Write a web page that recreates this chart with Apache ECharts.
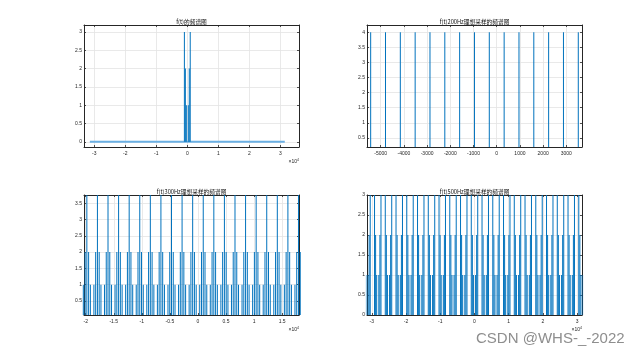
<!DOCTYPE html>
<html><head><meta charset="utf-8">
<script src="https://cdn.jsdelivr.net/npm/echarts@6/dist/echarts.min.js"></script>
<style>html,body{margin:0;padding:0;background:#fff}#c{width:643px;height:356px}</style>
</head><body><div id="c"></div>
<script>
// ---------- titles ----------
const titles = ['f(t)的频谱图', 'f(t)200Hz理想采样的频谱图', 'f(t)300Hz理想采样的频谱图', 'f(t)500Hz理想采样的频谱图'];

// ---------- plot 1 : spectrum of f(t) ----------
const p1X = [-942, -628, -314, 314, 628, 942];
const p1Y = [3, 2, 1, 1, 2, 3];
const p1ZeroX = [-31416, 31416];
const p1ZeroY = [0, 0];
const p1XTicks = [-30000, -20000, -10000, 0, 10000, 20000, 30000];
const p1YTicks = [0, 0.5, 1, 1.5, 2, 2.5, 3];

// ---------- plot 2 : 200 Hz sampling ----------
const p2X = [-5432, -4793, -4154, -3515, -2876, -2237, -1598, -959, -320, 320, 959, 1598, 2237, 2876, 3515];
const p2Y = [4, 4, 4, 4, 4, 4, 4, 4, 4, 4, 4, 4, 4, 4, 4];
const p2XTicks = [-5000, -4000, -3000, -2000, -1000, 0, 1000, 2000, 3000];
const p2YTicks = [0.5, 1, 1.5, 2, 2.5, 3, 3.5, 4];

// ---------- plot 3 : 300 Hz sampling ----------
const p3Levels = [6, 2, 1];
const p3H6X = [-19793, -17908, -16023, -14138, -12253, -10368, -8483, -6598, -4713, -2828, -943, 942, 2827, 4712, 6597, 8482, 10367, 12252, 14137, 16022, 17907];
const p3H2X = [-20107, -19479, -18222, -17594, -16337, -15709, -14452, -13824, -12567, -11939, -10682, -10054, -8797, -8169, -6912, -6284, -5027, -4399, -3142, -2514, -1257, -629, 628, 1256, 2513, 3141, 4398, 5026, 6283, 6911, 8168, 8796, 10053, 10681, 11938, 12566, 13823, 14451, 15708, 16336, 17593, 18221];
const p3H1X = [-20421, -19165, -18536, -17280, -16651, -15395, -14766, -13510, -12881, -11625, -10996, -9740, -9111, -7855, -7226, -5970, -5341, -4085, -3456, -2200, -1571, -315, 314, 1570, 2199, 3455, 4084, 5340, 5969, 7225, 7854, 9110, 9739, 10995, 11624, 12880, 13509, 14765, 15394, 16650, 17279, 18535];
const p3XTicks = [-20000, -15000, -10000, -5000, 0, 5000, 10000, 15000];
const p3YTicks = [0.5, 1, 1.5, 2, 2.5, 3, 3.5];

// ---------- plot 4 : 500 Hz sampling ----------
const p4Levels = [3, 2, 1];
const p4H3X = [-32358, -30474, -29216, -27332, -26075, -24191, -22933, -21049, -19792, -17908, -16650, -14766, -13508, -11624, -10367, -8483, -7225, -5341, -4084, -2200, -942, 942, 2200, 4084, 5341, 7225, 8483, 10367, 11624, 13508, 14766, 16650, 17908, 19792, 21049, 22933, 24191, 26075, 27332, 29216, 30474, 32358];
const p4H2X = [-32044, -30788, -28902, -27646, -25761, -24505, -22619, -21363, -19478, -18222, -16336, -15080, -13194, -11938, -10053, -8797, -6911, -5655, -3770, -2514, -628, 628, 2514, 3770, 5655, 6911, 8797, 10053, 11938, 13194, 15080, 16336, 18222, 19478, 21363, 22619, 24505, 25761, 27646, 28902, 30788, 32044];
const p4H1X = [-31730, -31102, -28588, -27960, -25447, -24819, -22305, -21677, -19164, -18536, -16022, -15394, -12880, -12252, -9739, -9111, -6597, -5969, -3456, -2828, -314, 314, 2828, 3456, 5969, 6597, 9111, 9739, 12252, 12880, 15394, 16022, 18536, 19164, 21677, 22305, 24819, 25447, 27960, 28588, 31102, 31730];
const p4XTicks = [-30000, -20000, -10000, 0, 10000, 20000, 30000];
const p4YTicks = [0, 0.5, 1, 1.5, 2, 2.5, 3];

// ---------- build ----------
const STEM = '#0072BD';
const AX = '#262626';
const GRIDC = '#e3e3e3';
const FONT = 'Liberation Sans, Arial, sans-serif';

const grids = [
  {left: 84, top: 25, width: 215, height: 122},
  {left: 367, top: 25, width: 215, height: 122},
  {left: 84, top: 195, width: 215, height: 120},
  {left: 367, top: 195, width: 215, height: 120}
];
const xRanges = [[-33300, 36000], [-5590, 3675], [-20300, 18000], [-31416, 31416]];
const yRanges = [[-0.14, 3.19], [0.2, 4.24], [0.07, 3.75], [0, 3]];
const xTicks = [p1XTicks, p2XTicks, p3XTicks, p4XTicks];
const yTicks = [p1YTicks, p2YTicks, p3YTicks, p4YTicks];
const scaled = [true, false, true, true];

const fmtNum = v => String(+v.toFixed(2));
const xAxes = [], yAxes = [];
for (let i = 0; i < 4; i++) {
  const common = {
    type: 'value', gridIndex: i, min: xRanges[i][0], max: xRanges[i][1],
    axisLine: {show: true, onZero: false, lineStyle: {color: AX, width: 1}},
    axisTick: {show: true, inside: true, length: 2, customValues: xTicks[i], lineStyle: {color: AX, width: 0.8}}
  };
  xAxes.push(Object.assign({}, common, {
    position: 'bottom',
    axisLabel: {customValues: xTicks[i], fontSize: 5, color: AX, margin: 4, fontFamily: FONT,
      formatter: v => scaled[i] ? fmtNum(v / 10000) : fmtNum(v)},
    splitLine: {show: true, lineStyle: {color: GRIDC, width: 0.8}},
    name: scaled[i] ? '×10{s|4}' : '', nameLocation: 'end', nameGap: 0,
    nameTextStyle: {fontSize: 5, color: AX, align: 'right', verticalAlign: 'top', padding: [11, 0, 0, 0], fontFamily: FONT,
      rich: {s: {fontSize: 3.5, verticalAlign: 'top', color: AX, padding: [0, 0, 3, 0]}}}
  }));
  xAxes.push(Object.assign({}, common, {
    position: 'top', axisLabel: {show: false}, splitLine: {show: false}
  }));
  const ycommon = {
    type: 'value', gridIndex: i, min: yRanges[i][0], max: yRanges[i][1],
    axisLine: {show: true, onZero: false, lineStyle: {color: AX, width: 1}},
    axisTick: {show: true, inside: true, length: 2, customValues: yTicks[i], lineStyle: {color: AX, width: 0.8}}
  };
  yAxes.push(Object.assign({}, ycommon, {
    position: 'left',
    axisLabel: {customValues: yTicks[i], fontSize: 5, color: AX, margin: 2, fontFamily: FONT, formatter: v => fmtNum(v)},
    splitLine: {show: true, lineStyle: {color: GRIDC, width: 0.8}}
  }));
  yAxes.push(Object.assign({}, ycommon, {
    position: 'right', axisLabel: {show: false}, splitLine: {show: false}
  }));
}

const pairs = (xs, ys) => xs.map((x, k) => [x, ys[k]]);
const levelPairs = (levels, lists) => {
  const out = [];
  lists.forEach((xs, j) => xs.forEach(x => out.push([x, levels[j]])));
  return out;
};
const stemSeries = (i, data) => ({
  type: 'bar', xAxisIndex: 2 * i, yAxisIndex: 2 * i, data: data, barWidth: 1,
  itemStyle: {color: STEM}, silent: true, animation: false, clip: true, z: 3
});

const series = [
  {type: 'line', xAxisIndex: 0, yAxisIndex: 0, data: pairs(p1ZeroX, p1ZeroY), symbol: 'none',
   lineStyle: {color: '#6aafe3', width: 2}, silent: true, animation: false, z: 2},
  stemSeries(0, pairs(p1X, p1Y)),
  stemSeries(1, pairs(p2X, p2Y)),
  stemSeries(2, levelPairs(p3Levels, [p3H6X, p3H2X, p3H1X])),
  stemSeries(3, levelPairs(p4Levels, [p4H3X, p4H2X, p4H1X]))
];

const titleY = [22, 22, 192, 192];
const graphics = titles.map((t, i) => ({
  type: 'text', x: grids[i].left + grids[i].width / 2, y: titleY[i], silent: true,
  style: {text: t, fontSize: 5.7, fill: '#111', align: 'center', verticalAlign: 'middle',
    fontFamily: 'Noto Sans CJK SC, Liberation Sans, sans-serif'}
}));
graphics.push({type: 'text', x: 476, y: 339, silent: true,
  style: {text: 'CSDN @WHS-_-2022', fontSize: 15, fill: '#8e8e8e', align: 'left', verticalAlign: 'middle',
    fontFamily: 'Liberation Sans, Arial, sans-serif'}});

const chart = echarts.init(document.getElementById('c'), null, {renderer: 'canvas'});
chart.setOption({
  animation: false,
  backgroundColor: '#ffffff',
  grid: grids,
  xAxis: xAxes,
  yAxis: yAxes,
  series: series,
  graphic: graphics
});
</script></body></html>
